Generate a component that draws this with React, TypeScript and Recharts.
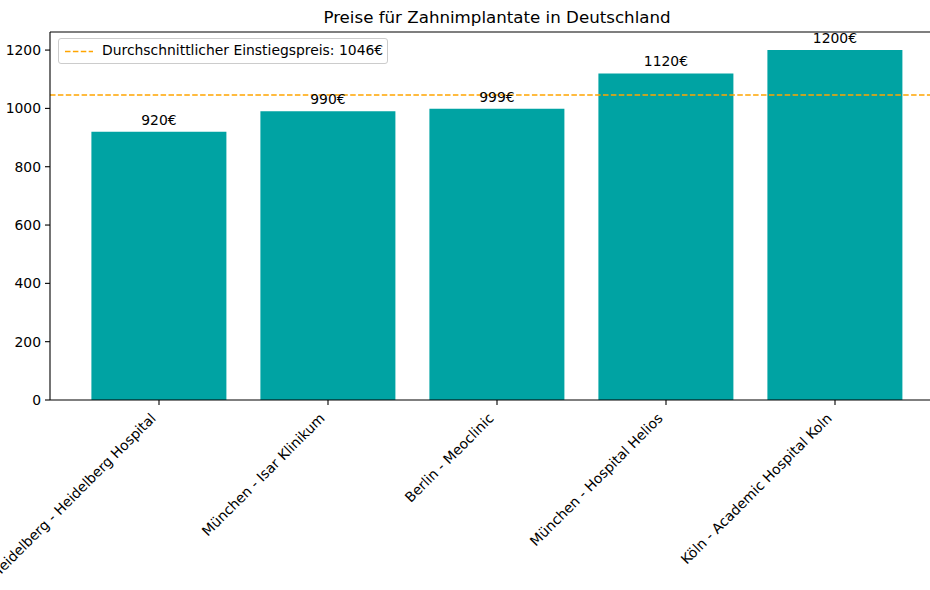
import React from "react";
import { BarChart, Bar, XAxis, YAxis, ReferenceLine, LabelList } from "recharts";

const clinics = [
  "Heidelberg - Heidelberg Hospital",
  "München - Isar Klinikum",
  "Berlin - Meoclinic",
  "München - Hospital Helios",
  "Köln - Academic Hospital Koln",
];
const prices = [920, 990, 999, 1120, 1200];
const averagePrice = 1046;
const yTicks = [0, 200, 400, 600, 800, 1000, 1200];
const titleText = "Preise für Zahnimplantate in Deutschland";
const legendText = `Durchschnittlicher Einstiegspreis: ${averagePrice}€`;

const data = clinics.map((c, i) => ({ clinic: c, price: prices[i] }));

const FONT = "'DejaVu Sans', sans-serif";

const RotTick = (props: any) => {
  const { x, y, payload } = props;
  const tx = x - 2.3;
  const ty = y + 9.2;
  return (
    <text
      x={tx}
      y={ty}
      textAnchor="end"
      transform={`rotate(-45, ${tx}, ${ty})`}
      fontFamily={FONT}
      fontSize={13.9}
      fill="#000"
    >
      {payload.value}
    </text>
  );
};

const LegendBox = () => (
  <div
    style={{
      position: "absolute",
      left: 58,
      top: 38,
      width: 328,
      height: 24,
      border: "1px solid #cccccc",
      borderRadius: 3,
      background: "rgba(255,255,255,0.8)",
      fontFamily: FONT,
      fontSize: 13.9,
      color: "#000",
    }}
  >
    <svg width={40} height={24} style={{ position: "absolute", left: 0, top: 0 }}>
      <line x1={6} x2={34} y1={12.5} y2={12.5} stroke="orange" strokeWidth={1.5} strokeDasharray="5.5 2.4" />
    </svg>
    <span style={{ position: "absolute", left: 43, top: 3, whiteSpace: "nowrap" }}>{legendText}</span>
  </div>
);

export default function App() {
  return (
    <div style={{ position: "absolute", left: 0, top: 0, width: 930, height: 590, overflow: "hidden", background: "#fff" }}>
      <div
        style={{
          position: "absolute",
          left: 0,
          width: 994,
          top: 8,
          textAlign: "center",
          fontFamily: FONT,
          fontSize: 16.67,
          color: "#000",
        }}
      >
        {titleText}
      </div>
      <BarChart
        width={960}
        height={590}
        data={data}
        margin={{ top: 32, right: 16, left: 0, bottom: 0 }}
        barCategoryGap="10%"
      >
        <XAxis
          dataKey="clinic"
          height={190}
          interval={0}
          padding={{ left: 24.5, right: 24.5 }}
          tick={<RotTick />}
          tickSize={5}
          tickMargin={5}
          axisLine={{ stroke: "#000", strokeWidth: 1.1 }}
          tickLine={{ stroke: "#000", strokeWidth: 1.1 }}
        />
        <YAxis
          width={50}
          domain={[0, 1262]}
          ticks={yTicks}
          interval={0}
          tickSize={5}
          tickMargin={4}
          axisLine={{ stroke: "#000", strokeWidth: 1.1 }}
          tickLine={{ stroke: "#000", strokeWidth: 1.1 }}
          tick={{ fill: "#000", fontSize: 13.9, fontFamily: FONT }}
        />
        <ReferenceLine y={1262} stroke="#000" strokeWidth={1.1} />
        <Bar dataKey="price" fill="#00a3a3" isAnimationActive={false} name={legendText}>
          <LabelList
            dataKey="price"
            position="top"
            offset={7}
            formatter={(v: any) => `${v}€`}
            style={{ fill: "#000", fontSize: 13.9, fontFamily: FONT }}
          />
        </Bar>
        <ReferenceLine y={averagePrice} stroke="orange" strokeWidth={1.5} strokeDasharray="5.5 2.4" />
      </BarChart>
      <LegendBox />
    </div>
  );
}
